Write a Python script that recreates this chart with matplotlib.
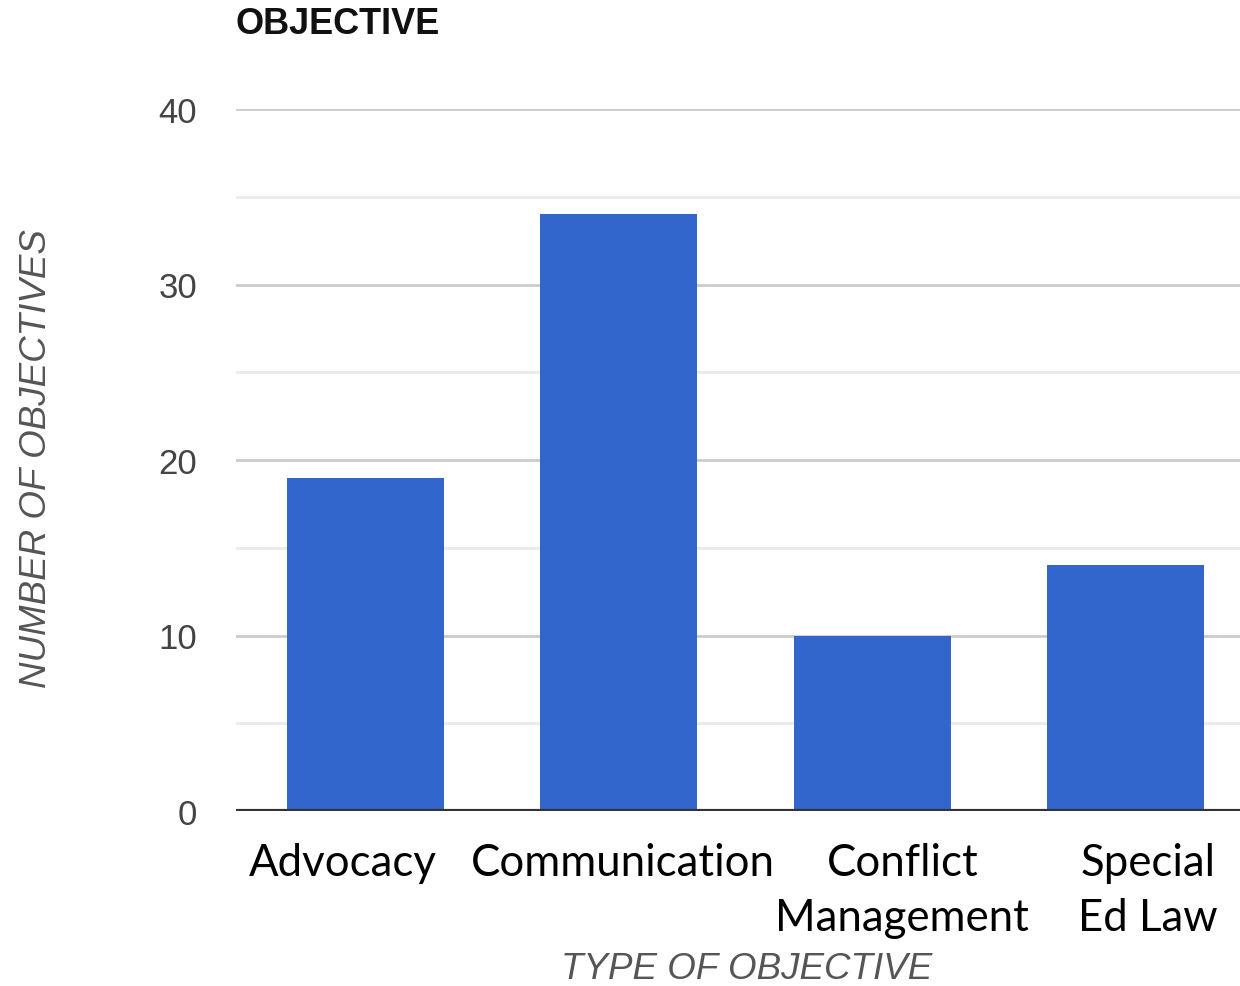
import matplotlib
matplotlib.use("Agg")
import matplotlib.pyplot as plt
from matplotlib.ticker import MultipleLocator
from matplotlib.transforms import ScaledTranslation

categories = ["Advocacy", "Communication", "Conflict\nManagement", "Special\nEd Law"]
counts = [19, 34, 10, 14]
y_ticks = [0, 10, 20, 30, 40]

# horizontal nudges (pixels) for each category label
label_shift_px = [-22, 4, 30, 22]

W, H = 1240, 987
fig = plt.figure(figsize=(W / 100, H / 100), dpi=100)
ax = fig.add_axes([236 / W, 1 - 812 / H, 1014 / W, (812 - 110) / H])

x = list(range(len(categories)))
ax.bar(x, counts, width=0.62, color="#3366CC", zorder=3)

ax.set_xlim(-0.51, len(categories) - 0.51)
ax.set_ylim(0, 40)
ax.set_yticks(y_ticks)
ax.yaxis.set_minor_locator(MultipleLocator(5))
ax.grid(axis="y", which="major", color="#cccccc", linewidth=2, zorder=0)
ax.grid(axis="y", which="minor", color="#ebebeb", linewidth=2, zorder=0)
ax.axhline(0, color="#333333", linewidth=3, zorder=4)

for s in ax.spines.values():
    s.set_visible(False)

ax.tick_params(axis="y", which="both", length=0, pad=28,
               labelsize=25, labelcolor="#444444")
for lab in ax.get_yticklabels():
    lab.set_family("Liberation Sans")

ax.set_xticks(x)
ax.set_xticklabels(categories, family="Lato", fontsize=31.5, color="black",
                   linespacing=1.45)
ax.tick_params(axis="x", length=0, pad=22)
for lab, dx in zip(ax.get_xticklabels(), label_shift_px):
    lab.set_transform(lab.get_transform() +
                      ScaledTranslation(dx / 100, 0, fig.dpi_scale_trans))

fig.text(236 / W, 1 - 25 / H, "OBJECTIVE", family="Liberation Sans",
         fontweight="bold", fontsize=26, color="#111111",
         ha="left", va="center")
fig.text(37 / W, 1 - 459 / H, "NUMBER OF OBJECTIVES", family="Liberation Sans",
         style="italic", fontsize=26.5, color="#555555", rotation=90,
         ha="center", va="center")
fig.text(747 / W, 1 - 970 / H, "TYPE OF OBJECTIVE", family="Liberation Sans",
         style="italic", fontsize=26.5, color="#555555", ha="center", va="center")

fig.savefig("out.png", dpi=100, facecolor="white")
